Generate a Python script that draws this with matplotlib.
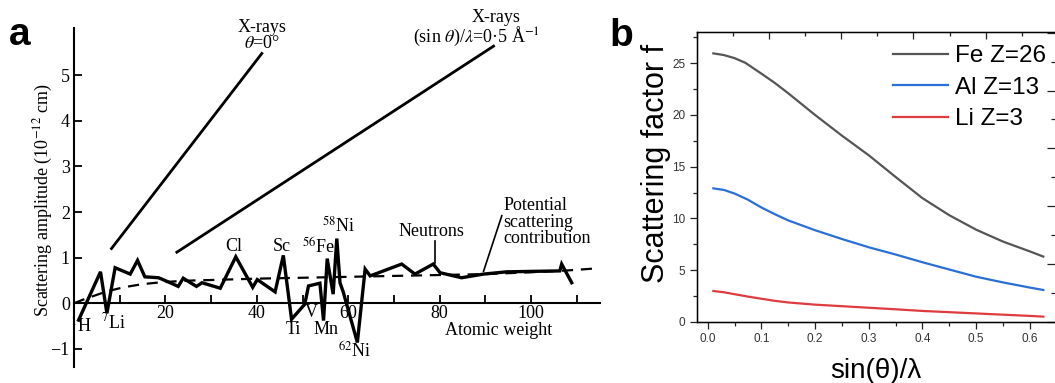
import matplotlib
matplotlib.use("Agg")
import matplotlib.pyplot as plt
from matplotlib.ticker import MultipleLocator, NullFormatter, FormatStrFormatter

plt.rcParams['mathtext.fontset'] = 'stix'

# ---------------- Panel a data ----------------
neutron_x = [1.0, 5.8, 7.2, 9.0, 12.3, 13.9, 15.5, 18.5, 20.6, 22.8, 23.9, 25.0, 26.8, 28.0,
             32.0, 35.4, 39.1, 40.1, 44.0, 45.8, 47.6, 50.5, 51.3, 53.8, 54.6, 55.4, 56.7,
             57.5, 58.2, 58.9, 62.0, 63.7, 64.8, 71.7, 74.6, 78.6, 80.1, 84.8, 89.6, 94.7,
             106.3, 106.7, 108.9]
neutron_y = [-0.37, 0.69, -0.22, 0.78, 0.64, 0.94, 0.58, 0.56, 0.47, 0.37, 0.55, 0.48, 0.37, 0.45,
             0.33, 1.02, 0.35, 0.52, 0.25, 1.05, -0.35, -0.02, 0.38, 0.44, -0.38, 0.98, 0.2,
             1.42, 0.45, 0.25, -0.86, 0.75, 0.6, 0.86, 0.64, 0.86, 0.67, 0.56, 0.64, 0.69,
             0.71, 0.86, 0.45]
potential_x = [0, 2, 4, 6, 8, 10, 12, 15, 18, 22, 26, 30, 40, 50, 60, 70, 80, 90, 100, 108, 115]
potential_y = [0.0, 0.08, 0.15, 0.22, 0.28, 0.33, 0.37, 0.42, 0.45, 0.48, 0.5, 0.51, 0.54, 0.56,
               0.58, 0.6, 0.62, 0.64, 0.68, 0.72, 0.77]
xray0_x = [8.2, 41.1]
xray0_y = [1.2, 5.48]
xray05_x = [22.5, 91.8]
xray05_y = [1.12, 5.64]

element_labels = [r'$^{1}$H', r'$^{7}$Li', 'Cl', 'Sc', r'$^{56}$Fe', r'$^{58}$Ni',
                  'Ti', 'V', 'Mn', r'$^{62}$Ni']
element_x = [1.5, 8.6, 35.0, 45.5, 53.6, 58.0, 47.9, 51.9, 55.2, 61.5]
element_y = [-0.52, -0.42, 1.24, 1.24, 1.21, 1.70, -0.58, -0.2, -0.58, -1.07]

# ---------------- Panel b data ----------------
fe_x = [0.0105, 0.03, 0.05, 0.07, 0.1, 0.125, 0.15, 0.2, 0.25, 0.3, 0.35, 0.4, 0.45, 0.5,
        0.55, 0.6, 0.625]
fe_y = [25.96, 25.8, 25.5, 25.05, 24.0, 23.1, 22.1, 20.0, 18.0, 16.1, 14.0, 11.95, 10.3, 8.9,
        7.75, 6.8, 6.3]
al_x = [0.0105, 0.03, 0.05, 0.075, 0.1, 0.125, 0.15, 0.2, 0.25, 0.3, 0.35, 0.4, 0.45, 0.5,
        0.55, 0.6, 0.625]
al_y = [12.9, 12.75, 12.4, 11.8, 11.05, 10.4, 9.8, 8.85, 8.0, 7.2, 6.5, 5.75, 5.05, 4.35,
        3.8, 3.3, 3.07]
li_x = [0.0105, 0.03, 0.05, 0.075, 0.1, 0.125, 0.15, 0.2, 0.25, 0.3, 0.35, 0.4, 0.45, 0.5,
        0.55, 0.6, 0.625]
li_y = [2.97, 2.85, 2.66, 2.43, 2.22, 2.02, 1.86, 1.65, 1.5, 1.35, 1.2, 1.04, 0.92, 0.8,
        0.68, 0.56, 0.49]
series_labels = ['Fe Z=26', 'Al Z=13', 'Li Z=3']

W, H = 1055, 383
fig = plt.figure(figsize=(W / 100, H / 100), dpi=100)
fig.patch.set_facecolor('white')


def px_axes(l, t, r, b):
    return fig.add_axes([l / W, 1 - b / H, (r - l) / W, (b - t) / H])


serif = 'Liberation Serif'
sans = 'Liberation Sans'

# ================= Panel a =================
axA = px_axes(74, 27.9, 599.6, 367.1)
axA.set_xlim(0, 115)
axA.set_ylim(-1.4, 6.04)
for s in ['top', 'right']:
    axA.spines[s].set_visible(False)
axA.spines['bottom'].set_position(('data', 0))
axA.spines['bottom'].set_linewidth(1.5)
axA.spines['left'].set_linewidth(1.5)
axA.patch.set_alpha(0)

axA.plot(neutron_x, neutron_y, color='black', lw=2.4, solid_joinstyle='miter')
axA.plot(potential_x, potential_y, color='black', lw=1.6, dashes=(5, 3.5))
axA.plot(xray0_x, xray0_y, color='black', lw=2.0)
axA.plot(xray05_x, xray05_y, color='black', lw=2.0)

axA.xaxis.set_minor_locator(MultipleLocator(10))
axA.set_xticks([20, 40, 60, 80, 100])
axA.tick_params(axis='x', which='both', direction='in', length=5.5, width=1.3,
                labelsize=13, pad=1)
axA.set_yticks([-1, 0, 1, 2, 3, 4, 5])
axA.set_yticklabels(['\u22121', '0', '1', '2', '3', '4', '5'])
axA.tick_params(axis='y', which='both', direction='in', length=6, width=1.3,
                labelsize=13, pad=3)
for lab in axA.get_xticklabels() + axA.get_yticklabels():
    lab.set_fontfamily(serif)

axA.set_ylabel('Scattering amplitude (10$^{-12}$ cm)', fontsize=13, family=serif)
axA.yaxis.set_label_coords(-0.036, 0.493)

tkw = dict(fontsize=13, family=serif, ha='center', va='center', clip_on=False)
for lab, x, y in zip(element_labels, element_x, element_y):
    axA.text(x, y, lab, **tkw)

axA.text(41.1, 6.05, 'X-rays', **tkw)
axA.text(41.1, 5.70, r'$\theta$=0°', **tkw)
axA.text(92.3, 6.27, 'X-rays', **tkw)
axA.text(88.0, 5.86, r'(sin $\theta$)/$\lambda$=0·5 Å$^{-1}$', **tkw)
axA.text(78.2, 1.57, 'Neutrons', **tkw)
axA.plot([79.0, 79.0], [1.36, 0.88], color='black', lw=1.2)
axA.text(94.0, 1.78, 'Potential\nscattering\ncontribution', fontsize=13, family=serif,
         ha='left', va='center', linespacing=0.95)
axA.plot([93.6, 89.6], [1.92, 0.70], color='black', lw=1.2)
axA.text(92.8, -0.60, 'Atomic weight', **tkw)

# ================= Panel b =================
axB = px_axes(696.7, 32.3, 1057, 321.7)
axB.set_xlim(-0.0205, 0.6505)
axB.set_ylim(0, 28)
lfe, = axB.plot(fe_x, fe_y, color='#555555', lw=1.6)
lal, = axB.plot(al_x, al_y, color='#2a6fd6', lw=1.6)
lli, = axB.plot(li_x, li_y, color='#de3c3f', lw=1.6)
for s in axB.spines.values():
    s.set_linewidth(1.0)
    s.set_color('#222222')
axB.xaxis.set_major_locator(MultipleLocator(0.1))
axB.xaxis.set_minor_locator(MultipleLocator(0.05))
axB.yaxis.set_major_locator(MultipleLocator(5))
axB.yaxis.set_minor_locator(MultipleLocator(2.5))
axB.tick_params(which='major', direction='out', length=5, width=0.9, labelsize=8.5,
                labelcolor='#333333', color='#222222', pad=3)
axB.tick_params(which='minor', direction='out', length=3, width=0.9, color='#222222')
axB.xaxis.set_major_formatter(FormatStrFormatter('%.1f'))
for lab in axB.get_xticklabels() + axB.get_yticklabels():
    lab.set_fontfamily(sans)

axB.set_ylabel('Scattering factor f', fontsize=22, family=sans)
axB.yaxis.set_label_coords(-0.071, 0.548)
axB.set_xlabel('sin(\u03b8)/\u03bb', fontsize=20, family=sans)
axB.xaxis.set_label_coords(0.4977, -0.125)

axT = axB.twiny()
axT.set_xlim(0, 4.986)
axT.xaxis.set_major_locator(MultipleLocator(1))
axT.xaxis.set_minor_locator(MultipleLocator(0.5))
axT.xaxis.set_major_formatter(NullFormatter())
axT.tick_params(which='major', direction='in', length=5, width=0.9, color='#222222')
axT.tick_params(which='minor', direction='in', length=3, width=0.9, color='#222222')

axR = axB.twinx()
axR.set_ylim(0, 5.007)
axR.yaxis.set_major_locator(MultipleLocator(1))
axR.yaxis.set_minor_locator(MultipleLocator(0.5))
axR.yaxis.set_major_formatter(NullFormatter())
axR.tick_params(which='major', direction='in', length=7, width=0.9, color='#222222')
axR.tick_params(which='minor', direction='in', length=4, width=0.9, color='#222222')

leg = axB.legend([lfe, lal, lli], series_labels, loc='upper left',
                 bbox_to_anchor=(893 / W, 1 - 45 / H), bbox_transform=fig.transFigure,
                 frameon=False, prop={'family': sans, 'size': 17.5}, handlelength=2.25,
                 handletextpad=0.3, labelspacing=0.4, borderpad=0, borderaxespad=0)
leg.set_zorder(10)

# panel letters
fig.text(9 / W, 1 - 45 / H, 'a', fontsize=28, fontweight='bold', family=sans, va='baseline')
fig.text(609 / W, 1 - 46 / H, 'b', fontsize=28, fontweight='bold', family=sans, va='baseline')

fig.savefig('out.png', dpi=100)
